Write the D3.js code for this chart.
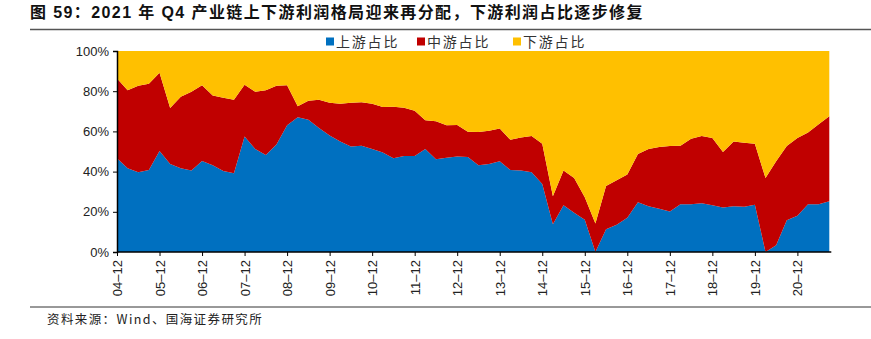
<!DOCTYPE html>
<html>
<head>
<meta charset="utf-8">
<script src="https://cdn.jsdelivr.net/npm/d3@7"></script>
<style>
  html, body { margin: 0; padding: 0; background: #fff; }
  svg { display: block; }
</style>
</head>
<body>
<svg id="chart" width="871" height="339"></svg>
<script>
// Quarter-end periods, 2004Q4 to 2021Q3
const quarters = [
  "04-12",
  "05-03","05-06","05-09","05-12","06-03","06-06","06-09","06-12",
  "07-03","07-06","07-09","07-12","08-03","08-06","08-09","08-12",
  "09-03","09-06","09-09","09-12","10-03","10-06","10-09","10-12",
  "11-03","11-06","11-09","11-12","12-03","12-06","12-09","12-12",
  "13-03","13-06","13-09","13-12","14-03","14-06","14-09","14-12",
  "15-03","15-06","15-09","15-12","16-03","16-06","16-09","16-12",
  "17-03","17-06","17-09","17-12","18-03","18-06","18-09","18-12",
  "19-03","19-06","19-09","19-12","20-03","20-06","20-09","20-12",
  "21-03","21-06","21-09"
];

// Profit share by segment of the industrial chain (%)
const upstream = [
  46.7,41.7,39.7,40.8,50.2,43.8,41.7,40.5,45.3,43.2,40.3,39.2,57.5,51.2,48.2,53.5,
  63.0,67.0,65.8,61.7,58.0,55.0,52.5,52.8,51.3,49.5,46.7,47.8,47.7,51.3,46.2,46.9,
  47.5,47.3,43.2,43.8,45.2,40.8,40.5,39.7,33.8,13.8,23.3,19.5,16.0,0.0,11.3,13.5,
  17.0,24.8,22.7,21.5,20.2,23.8,23.7,24.3,23.3,22.2,22.8,22.5,23.5,0.0,3.3,15.8,
  18.0,23.7,23.7,25.2
];
const midstream = [
  39.6,38.8,43.0,42.9,39.0,27.9,35.5,39.2,37.7,34.6,36.5,36.5,25.7,28.5,32.3,29.2,
  20.0,5.5,9.4,14.0,16.2,18.8,21.7,21.7,22.5,22.7,25.6,24.0,22.6,14.2,18.8,16.1,
  15.7,12.5,16.5,16.5,16.3,15.0,16.5,18.0,20.0,13.9,17.2,17.3,11.2,14.2,21.5,22.2,
  21.5,24.0,28.6,30.8,32.5,29.0,32.6,33.4,33.4,27.5,32.2,31.8,30.3,36.8,41.9,36.9,
  38.7,35.8,39.8,42.3
];
const downstream = [
  13.7,19.5,17.3,16.3,10.8,28.3,22.8,20.3,17.0,22.2,23.2,24.3,16.8,20.3,19.5,17.3,
  17.0,27.5,24.8,24.3,25.8,26.2,25.8,25.5,26.2,27.8,27.7,28.2,29.7,34.5,35.0,37.0,
  36.8,40.2,40.3,39.7,38.5,44.2,43.0,42.3,46.2,72.3,59.5,63.2,72.8,85.8,67.2,64.3,
  61.5,51.2,48.7,47.7,47.3,47.2,43.7,42.3,43.3,50.3,45.0,45.7,46.2,63.2,54.8,47.3,
  43.3,40.5,36.5,32.5
];

const seriesNames = ["上游占比", "中游占比", "下游占比"];
const seriesColors = ["#0070C0", "#C00000", "#FFC000"];
const xTickLabels = ["04-12","05-12","06-12","07-12","08-12","09-12","10-12","11-12",
  "12-12","13-12","14-12","15-12","16-12","17-12","18-12","19-12","20-12"];
const yTicks = [0, 20, 40, 60, 80, 100];

const titleText = "图 59：2021 年 Q4 产业链上下游利润格局迎来再分配，下游利润占比逐步修复";
const sourceText = "资料来源：Wind、国海证券研究所";

const svg = d3.select("#chart");
const plot = { left: 117, right: 829.3, top: 51, bottom: 252 };

const rows = quarters.map((q, i) => ({
  q, i,
  up: upstream[i], mid: midstream[i], down: downstream[i]
}));

const x = d3.scaleLinear().domain([0, quarters.length - 1]).range([plot.left, plot.right]);
const y = d3.scaleLinear().domain([0, 100]).range([plot.bottom, plot.top]);

const stack = d3.stack().keys(["up", "mid", "down"]);
const layers = stack(rows);

const area = d3.area()
  .x(d => x(d.data.i))
  .y0(d => y(d[0]))
  .y1(d => y(d[1]));

// Title and rules
svg.append("text")
  .attr("x", 30).attr("y", 18)
  .attr("font-family", "'Liberation Sans', 'Noto Sans CJK SC', sans-serif")
  .attr("font-weight", "bold")
  .attr("font-size", 16)
  .attr("letter-spacing", 1.4)
  .attr("fill", "#111")
  .text(titleText);

svg.append("line")
  .attr("x1", 30).attr("x2", 871).attr("y1", 29.5).attr("y2", 29.5)
  .attr("stroke", "#555").attr("stroke-width", 1.5);

svg.append("line")
  .attr("x1", 30).attr("x2", 871).attr("y1", 307).attr("y2", 307)
  .attr("stroke", "#333").attr("stroke-width", 1);

// Stacked areas
svg.append("g")
  .selectAll("path")
  .data(layers)
  .join("path")
  .attr("d", area)
  .attr("fill", (d, k) => seriesColors[k]);

// Y axis
const yAxis = d3.axisLeft(y)
  .tickValues(yTicks)
  .tickFormat(d => d + "%")
  .tickSize(4)
  .tickPadding(4);
const gy = svg.append("g")
  .attr("transform", `translate(${plot.left},0)`)
  .call(yAxis);
gy.select(".domain").attr("stroke", "#000").attr("stroke-width", 1.5);
gy.selectAll(".tick line").attr("stroke", "#000");
gy.selectAll(".tick text")
  .attr("font-family", "'Liberation Sans', Arial, sans-serif")
  .attr("font-size", 13)
  .attr("fill", "#222");

// X axis
const tickIdx = xTickLabels.map(l => quarters.indexOf(l));
const xAxis = d3.axisBottom(x)
  .tickValues(tickIdx)
  .tickFormat(i => quarters[i].replace("-", "–"))
  .tickSize(4)
  .tickSizeOuter(0);
const gx = svg.append("g")
  .attr("transform", `translate(0,${plot.bottom})`)
  .call(xAxis);
gx.select(".domain")
  .attr("d", `M${plot.left},0H${plot.right + 2}`)
  .attr("stroke", "#000").attr("stroke-width", 1.5);
gx.selectAll(".tick line").attr("stroke", "#000");
gx.selectAll(".tick text")
  .attr("font-family", "'Liberation Sans', Arial, sans-serif")
  .attr("font-size", 13)
  .attr("fill", "#222")
  .attr("text-anchor", "end")
  .attr("dy", "0.35em")
  .attr("transform", "translate(0,8) rotate(-90)")
  .attr("x", 0).attr("y", 0);

// Legend
const legendX = [326, 417, 513];
const legend = svg.append("g");
seriesNames.forEach((name, k) => {
  legend.append("rect")
    .attr("x", legendX[k]).attr("y", 37.5)
    .attr("width", 8).attr("height", 8)
    .attr("fill", seriesColors[k]);
  legend.append("text")
    .attr("x", legendX[k] + 10).attr("y", 47)
    .attr("font-family", "'Noto Sans CJK SC', sans-serif")
    .attr("font-size", 14)
    .attr("letter-spacing", 1.8)
    .attr("fill", "#333")
    .text(name);
});

// Source note
svg.append("text")
  .attr("x", 47).attr("y", 324)
  .attr("font-family", "'Noto Sans CJK SC', 'DejaVu Sans Mono', sans-serif")
  .attr("font-size", 12.5)
  .attr("letter-spacing", 1.4)
  .attr("fill", "#222")
  .text(sourceText);
</script>
</body>
</html>
